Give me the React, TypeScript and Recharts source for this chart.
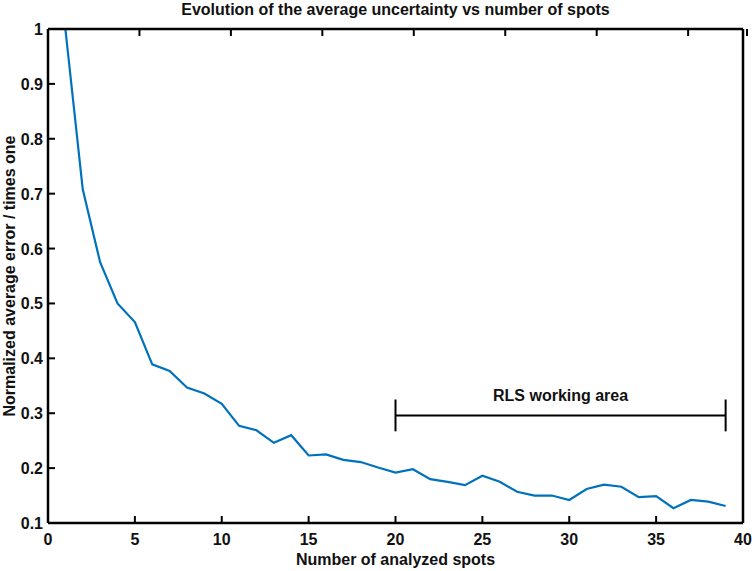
import { Label, Line, LineChart, ReferenceLine, XAxis, YAxis } from 'recharts'

const spots = [1, 2, 3, 4, 5, 6, 7, 8, 9, 10, 11, 12, 13, 14, 15, 16, 17, 18, 19, 20, 21, 22, 23, 24, 25, 26, 27, 28, 29, 30, 31, 32, 33, 34, 35, 36, 37, 38, 39]
const avgError = [
  1.0, 0.708, 0.575, 0.5, 0.466, 0.389, 0.377, 0.347, 0.336, 0.317,
  0.277, 0.269, 0.246, 0.26, 0.223, 0.225, 0.215, 0.211, 0.201, 0.192,
  0.198, 0.18, 0.175, 0.169, 0.186, 0.175, 0.157, 0.15, 0.15, 0.142,
  0.162, 0.17, 0.166, 0.147, 0.149, 0.127, 0.142, 0.139, 0.131,
]
const xTicks = [0, 5, 10, 15, 20, 25, 30, 35, 40]
const yTicks = [0.1, 0.2, 0.3, 0.4, 0.5, 0.6, 0.7, 0.8, 0.9, 1]

// annotation: working range bracket
const rlsStart = 20
const rlsEnd = 39
const rlsLevel = 0.296
const rlsCap = 0.029

const data = spots.map((x, i) => ({ x, y: avgError[i] }))

const FONT = '"Liberation Sans", Arial, sans-serif'
const TICK_LEN = 7
const fmt = (v: number) => String(Number(v.toFixed(1)))

const BottomTick = ({ x, y, payload }: any) => (
  <g>
    <line x1={x} y1={y} x2={x} y2={y - TICK_LEN} stroke="#000" strokeWidth={2} />
    <text x={x} y={y + 22} textAnchor="middle" fontFamily={FONT} fontWeight="bold" fontSize={16} fill="#111">
      {fmt(payload.value)}
    </text>
  </g>
)

const TopTick = ({ x, y }: any) => (
  <line x1={x} y1={y} x2={x} y2={y + TICK_LEN} stroke="#000" strokeWidth={2} />
)

const LeftTick = ({ x, y, payload }: any) => (
  <g>
    <line x1={x} y1={y} x2={x + TICK_LEN} y2={y} stroke="#000" strokeWidth={2} />
    <text x={x - 5} y={y + 6} textAnchor="end" fontFamily={FONT} fontWeight="bold" fontSize={16} fill="#111">
      {fmt(payload.value)}
    </text>
  </g>
)

const RightTick = ({ x, y }: any) => (
  <line x1={x} y1={y} x2={x - TICK_LEN} y2={y} stroke="#000" strokeWidth={2} />
)

export default function App() {
  return (
    <div style={{ position: 'absolute', left: 0, top: 0, background: '#fff' }}>
      <LineChart width={755} height={571} data={data} margin={{ top: 0, right: 0, bottom: 0, left: 0 }}>
        <XAxis
          xAxisId="bottom"
          dataKey="x"
          type="number"
          domain={[0, 40]}
          ticks={xTicks}
          height={48}
          tickSize={0}
          tickMargin={0}
          tickLine={false}
          axisLine={{ stroke: '#000', strokeWidth: 2.5 }}
          tick={<BottomTick />}
        >
          <Label
            content={({ viewBox }: any) => (
              <text
                x={viewBox.x + viewBox.width / 2}
                y={viewBox.y + 42}
                textAnchor="middle"
                fontFamily={FONT}
                fontWeight="bold"
                fontSize={16}
                fill="#111"
              >
                Number of analyzed spots
              </text>
            )}
          />
        </XAxis>
        <XAxis
          xAxisId="top"
          orientation="top"
          type="number"
          domain={[0, 40]}
          ticks={xTicks}
          height={29}
          tickSize={0}
          tickMargin={0}
          tickLine={false}
          axisLine={{ stroke: '#000', strokeWidth: 2.5 }}
          tick={<TopTick />}
        >
          <Label
            content={({ viewBox }: any) => (
              <text
                x={viewBox.x + viewBox.width / 2}
                y={15}
                textAnchor="middle"
                fontFamily={FONT}
                fontWeight="bold"
                fontSize={16}
                fill="#111"
              >
                Evolution of the average uncertainty vs number of spots
              </text>
            )}
          />
        </XAxis>
        <YAxis
          yAxisId="left"
          type="number"
          domain={[0.1, 1]}
          ticks={yTicks}
          width={48}
          tickSize={0}
          tickMargin={0}
          tickLine={false}
          axisLine={{ stroke: '#000', strokeWidth: 2.5 }}
          tick={<LeftTick />}
        >
          <Label
            content={({ viewBox }: any) => {
              const cx = 15
              const cy = viewBox.y + viewBox.height / 2
              return (
                <text
                  x={cx}
                  y={cy}
                  transform={`rotate(-90 ${cx} ${cy})`}
                  textAnchor="middle"
                  fontFamily={FONT}
                  fontWeight="bold"
                  fontSize={16}
                  fill="#111"
                >
                  Normalized average error / times one
                </text>
              )
            }}
          />
        </YAxis>
        <YAxis
          yAxisId="right"
          orientation="right"
          type="number"
          domain={[0.1, 1]}
          ticks={yTicks}
          width={12}
          tickSize={0}
          tickMargin={0}
          tickLine={false}
          axisLine={{ stroke: '#000', strokeWidth: 2.5 }}
          tick={<RightTick />}
        />
        <ReferenceLine
          xAxisId="bottom"
          yAxisId="left"
          segment={[{ x: rlsStart, y: rlsLevel }, { x: rlsEnd, y: rlsLevel }]}
          stroke="#000"
          strokeWidth={2}
        >
          <Label value="RLS working area" position="top" offset={14} fontFamily={FONT} fontWeight="bold" fontSize={16} fill="#111" />
        </ReferenceLine>
        <ReferenceLine
          xAxisId="bottom"
          yAxisId="left"
          segment={[{ x: rlsStart, y: rlsLevel - rlsCap }, { x: rlsStart, y: rlsLevel + rlsCap }]}
          stroke="#000"
          strokeWidth={2}
        />
        <ReferenceLine
          xAxisId="bottom"
          yAxisId="left"
          segment={[{ x: rlsEnd, y: rlsLevel - rlsCap }, { x: rlsEnd, y: rlsLevel + rlsCap }]}
          stroke="#000"
          strokeWidth={2}
        />
        <Line
          xAxisId="bottom"
          yAxisId="left"
          type="linear"
          dataKey="y"
          stroke="#0072BD"
          strokeWidth={2.2}
          dot={false}
          isAnimationActive={false}
        />
      </LineChart>
    </div>
  )
}
